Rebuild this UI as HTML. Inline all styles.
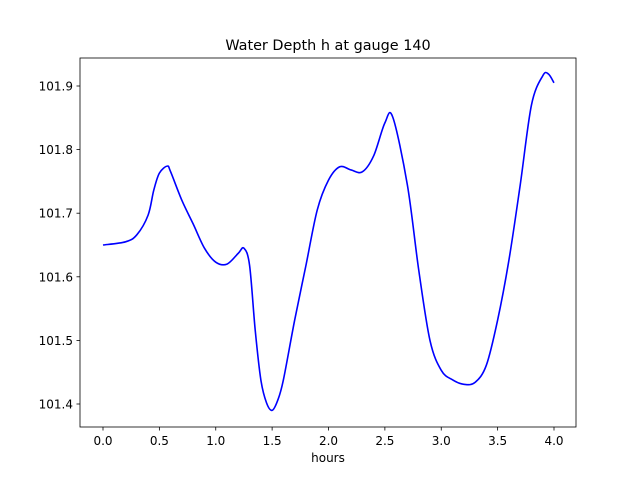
<!DOCTYPE html>
<html><head><meta charset="utf-8"><style>
body{margin:0;background:#fff;}
svg text{font-family:"DejaVu Sans","Liberation Sans",sans-serif;font-size:12px;fill:#000;}
</style></head><body>
<svg width="640" height="480" id="c">
<rect width="640" height="480" fill="#fff"/>
<text x="328" y="50" text-anchor="middle" style="font-size:14.4px">Water Depth h at gauge 140</text>
<text x="328" y="462" text-anchor="middle">hours</text>
<g id="ticks"></g>
<path id="line" fill="none" stroke="#0000ff" stroke-width="1.6"/>
<rect x="80" y="58" width="496" height="369" fill="none" stroke="#000" stroke-width="0.8"/>
</svg>
<script>
const times=[0,0.2,0.3,0.4,0.45,0.5,0.57,0.6,0.7,0.8,0.9,1.0,1.1,1.2,1.25,1.3,1.35,1.4,1.45,1.5,1.55,1.6,1.7,1.8,1.9,2.0,2.1,2.2,2.3,2.4,2.5,2.57,2.7,2.8,2.9,3.0,3.1,3.2,3.3,3.4,3.5,3.6,3.7,3.8,3.9,3.95,4.0];
const depths=[101.65,101.655,101.666,101.697,101.736,101.763,101.774,101.765,101.72,101.683,101.645,101.623,101.62,101.637,101.645,101.618,101.516,101.438,101.402,101.39,101.406,101.438,101.532,101.618,101.705,101.752,101.773,101.768,101.765,101.79,101.842,101.851,101.744,101.611,101.5,101.453,101.438,101.431,101.434,101.461,101.532,101.626,101.744,101.87,101.916,101.919,101.905];
const xTicks=[0,0.5,1,1.5,2,2.5,3,3.5,4];
const yTicks=[101.4,101.5,101.6,101.7,101.8,101.9];
const xs=v=>103+v*112.75;
const ys=v=>404-(v-101.4)*636;
const NS="http://www.w3.org/2000/svg";
const g=document.getElementById('ticks');
xTicks.forEach(t=>{
  const l=document.createElementNS(NS,'line');
  
  
  l.setAttribute('x1',xs(t));l.setAttribute('x2',xs(t));l.setAttribute('y1',427);l.setAttribute('y2',430.5);l.setAttribute('stroke','#000');l.setAttribute('stroke-width','0.8');g.appendChild(l);
  const tx=document.createElementNS(NS,'text');
  
  
  tx.setAttribute('x',xs(t));tx.setAttribute('y',445);tx.setAttribute('text-anchor','middle');tx.textContent=t.toFixed(1);g.appendChild(tx);
});
yTicks.forEach(t=>{
  const l=document.createElementNS(NS,'line');
  
  
  l.setAttribute('x1',76.5);l.setAttribute('x2',80);l.setAttribute('y1',ys(t));l.setAttribute('y2',ys(t));l.setAttribute('stroke','#000');l.setAttribute('stroke-width','0.8');g.appendChild(l);
  const tx=document.createElementNS(NS,'text');
  
  
  tx.setAttribute('x',73);tx.setAttribute('y',ys(t)+4.5);tx.setAttribute('text-anchor','end');tx.textContent=t.toFixed(1);g.appendChild(tx);
});
const P=times.map((t,i)=>[xs(t),ys(depths[i])]);
let d='M'+P[0][0]+','+P[0][1];
for(let i=0;i<P.length-1;i++){
  const p0=P[Math.max(0,i-1)],p1=P[i],p2=P[i+1],p3=P[Math.min(P.length-1,i+2)];
  const c1=[p1[0]+(p2[0]-p0[0])/6,p1[1]+(p2[1]-p0[1])/6];
  const c2=[p2[0]-(p3[0]-p1[0])/6,p2[1]-(p3[1]-p1[1])/6];
  d+=` C${c1[0]},${c1[1]} ${c2[0]},${c2[1]} ${p2[0]},${p2[1]}`;
}
document.getElementById('line').setAttribute('d',d);
</script>
</body></html>
